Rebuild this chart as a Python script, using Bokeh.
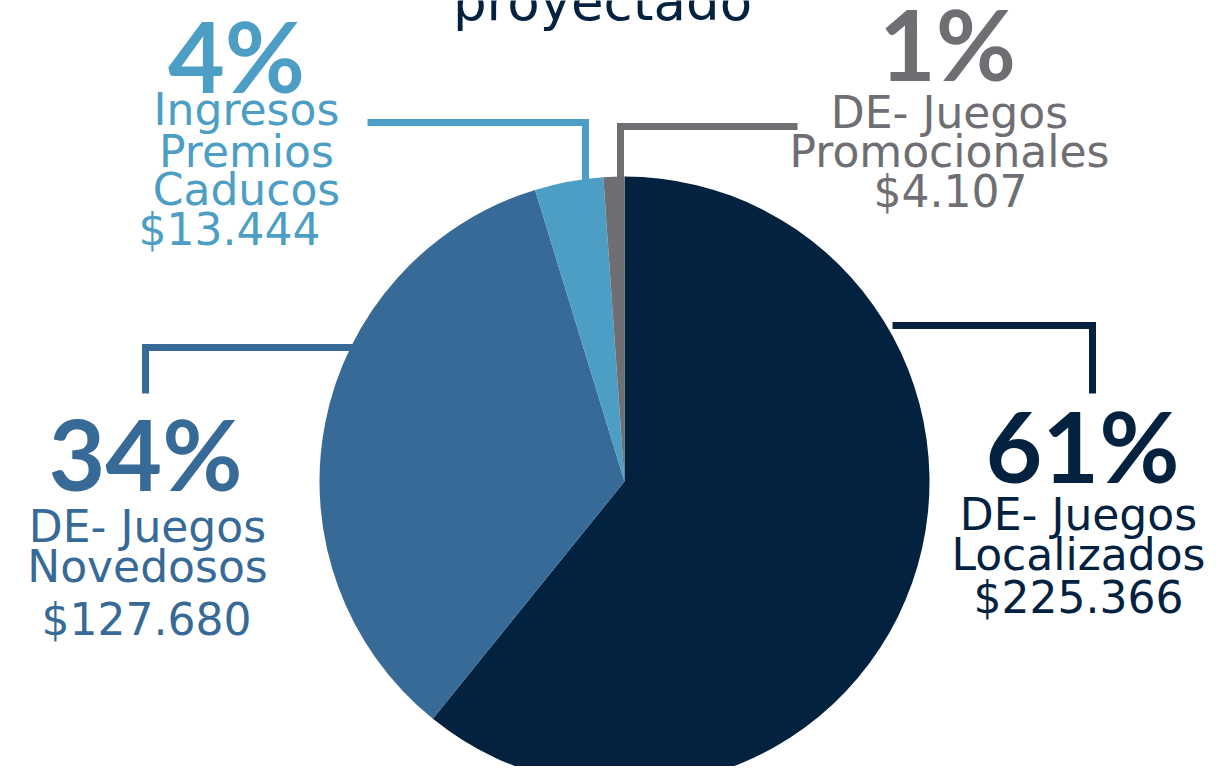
import numpy as np
from bokeh.plotting import figure
from bokeh.models import Range1d, ColumnDataSource
from bokeh.core.properties import value
from bokeh.embed import file_html
from bokeh.resources import INLINE

# ---- data ----
categories = ["DE- Juegos Localizados", "DE- Juegos Novedosos",
              "Ingresos Premios Caducos", "DE- Juegos Promocionales"]
values = [225366, 127680, 13444, 4107]
pct_labels = ["61%", "34%", "4%", "1%"]
name_lines = [["DE- Juegos", "Localizados"],
              ["DE- Juegos", "Novedosos"],
              ["Ingresos", "Premios", "Caducos"],
              ["DE- Juegos", "Promocionales"]]
money_labels = ["$225.366", "$127.680", "$13.444", "$4.107"]
title_text = "proyectado"

# ---- styles / layout ----
colors = ["#03223f", "#376a96", "#4c9ec4", "#6e6e73"]
W, H = 1204, 766

def X(s):
    return s + 8

def Y(s):
    return 774 - s

def YT(s, off):
    return Y(s) + off

p = figure(width=W, height=H, x_range=Range1d(8, 8 + W), y_range=Range1d(8, 8 + H),
           output_backend="svg", toolbar_location=None, min_border=0,
           x_axis_location=None, y_axis_location=None)
p.grid.visible = False
p.outline_line_color = None
p.background_fill_color = "white"

# pie (clockwise from 12 o'clock)
vals = np.array(values, dtype=float)
frac = vals / vals.sum()
cum = np.concatenate([[0.0], np.cumsum(frac)])
start = np.pi / 2 - 2 * np.pi * cum[1:]
end = np.pi / 2 - 2 * np.pi * cum[:-1]
src = ColumnDataSource(dict(start=start, end=end, color=colors, cat=categories))
p.wedge(x=X(624), y=Y(481), radius=305, start_angle="start", end_angle="end",
        fill_color="color", line_color=None, source=src)

# leader lines
leaders = [
    [(892, 325), (1092, 325), (1092, 393)],
    [(356, 347), (145, 347), (145, 393)],
    [(367, 122), (585, 122), (585, 182)],
    [(797, 126), (620, 126), (620, 179)],
]
p.multi_line(xs=[[X(a) for a, b in L] for L in leaders],
             ys=[[Y(b) for a, b in L] for L in leaders],
             line_color=colors, line_width=7, line_join="miter", line_cap="butt")

# label layout: (pct x, pct baseline, text x, text baselines, money x, money baseline)
layout = [
    (1082, 480, 1078, [530, 570], 1078, 613),
    (145, 488, 147, [542, 582], 146, 635),
    (236, 90, 246, [125, 167, 205], 229, 245),
    (947, 78, 949, [128, 167], 950, 207),
]
PCT_OFF, LAB_OFF = 36, 16

pct_src = ColumnDataSource(dict(x=[X(l[0]) for l in layout],
                                y=[YT(l[1], PCT_OFF) for l in layout],
                                t=pct_labels, c=colors))
p.text(x="x", y="y", text="t", text_color="c", source=pct_src,
       text_font=value("Lato"), text_font_style="bold", text_font_size="98px",
       text_align="center", text_baseline="alphabetic")

lx, ly, lt, lc = [], [], [], []
for i, l in enumerate(layout):
    for j, line in enumerate(name_lines[i]):
        lx.append(X(l[2])); ly.append(YT(l[3][j], LAB_OFF)); lt.append(line); lc.append(colors[i])
    lx.append(X(l[4])); ly.append(YT(l[5], LAB_OFF)); lt.append(money_labels[i]); lc.append(colors[i])
lab_src = ColumnDataSource(dict(x=lx, y=ly, t=lt, c=lc))
p.text(x="x", y="y", text="t", text_color="c", source=lab_src,
       text_font=value("DejaVu Sans"), text_font_size="44px",
       text_align="center", text_baseline="alphabetic")

# title (partly cut off at top)
p.text(x=[X(602)], y=[Y(0) - 1], text=[title_text], text_color="#03223f",
       text_font=value("DejaVu Sans"), text_font_size="53px",
       text_align="center", text_baseline="alphabetic")

open("out.html", "w").write(file_html(p, INLINE))
